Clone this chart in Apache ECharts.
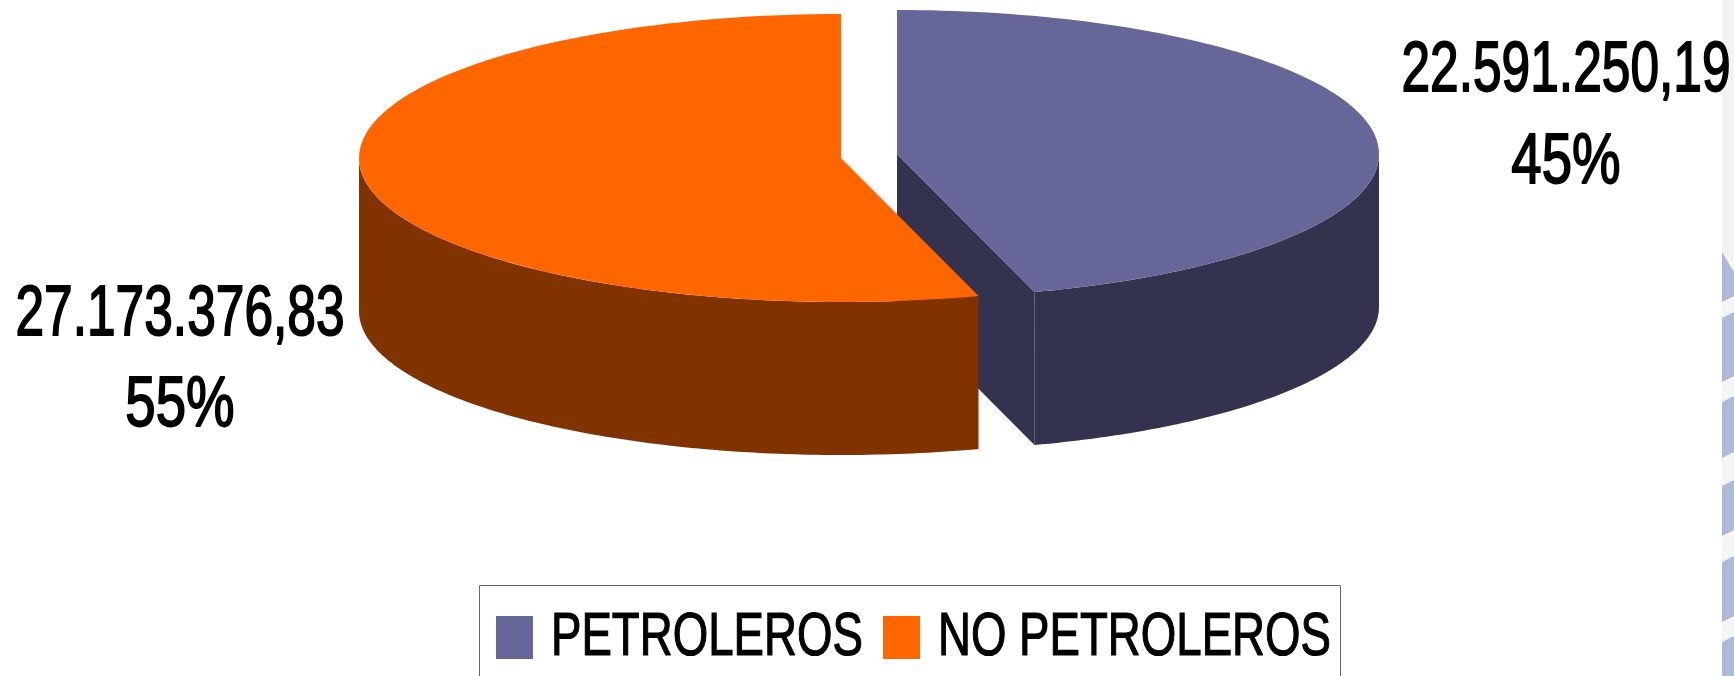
<!DOCTYPE html>
<html>
<head>
<meta charset="utf-8">
<style>
  html, body { margin: 0; padding: 0; background: #fff; }
  #chart { width: 1734px; height: 676px; }
</style>
<script src="https://cdn.jsdelivr.net/npm/echarts@6/dist/echarts.min.js"></script>
</head>
<body>
<div id="chart"></div>
<script>
const categories = ['PETROLEROS', 'NO PETROLEROS'];
const seriesValues = [22591250.19, 27173376.83];
const valueLabels = ['22.591.250,19', '27.173.376,83'];
const percentLabels = ['45%', '55%'];

const topColors = ['#666699', '#FF6600'];
const sideColors = ['#33334F', '#803300'];

// pie geometry, the source picture is an old 3D pie so it is drawn by hand
const rx = 482, ry = 144, depth = 153;
const centers = [[897, 154], [841, 158]];
const labelPos = [[1566, 72, 164], [180, 316, 407]];
const labelFont = '70px "Liberation Sans", Arial, sans-serif';
const legendFont = '61px "Liberation Sans", Arial, sans-serif';

const total = seriesValues[0] + seriesValues[1];
const cut = seriesValues[0] / total * Math.PI * 2;

function arc(c, from, to, dy) {
  const pts = [];
  const n = 120;
  for (let i = 0; i <= n; i++) {
    const a = from + (to - from) * i / n;
    pts.push([c[0] + rx * Math.sin(a), c[1] - ry * Math.cos(a) + (dy || 0)]);
  }
  return pts;
}

function poly(points, fill) {
  return { type: 'polygon', shape: { points: points }, style: { fill: fill } };
}

function labelText(text, x, y, sx) {
  return {
    type: 'text', x: x, y: y, scaleX: sx,
    style: { text: text, font: labelFont, fill: '#000', stroke: '#000', lineWidth: 1.8, align: 'center', verticalAlign: 'middle' }
  };
}

function renderSlice(params) {
  const i = params.seriesIndex;
  const c = centers[i];
  const children = [];
  if (i === 0) {
    // front wall and the cut face of the separated slice
    const wall = arc(c, Math.PI / 2, cut);
    children.push(poly(wall.concat(arc(c, cut, Math.PI / 2, depth)), sideColors[i]));
    const edge = wall[wall.length - 1];
    children.push(poly([c, edge, [edge[0], edge[1] + depth], [c[0], c[1] + depth]], sideColors[i]));
    children.push(poly([c].concat(arc(c, 0, cut)), topColors[i]));
  } else {
    const wall = arc(c, cut, Math.PI * 1.5);
    children.push(poly(wall.concat(arc(c, Math.PI * 1.5, cut, depth)), sideColors[i]));
    children.push(poly([c].concat(arc(c, cut, Math.PI * 2)), topColors[i]));
  }
  children.push(labelText(valueLabels[i], labelPos[i][0], labelPos[i][1], 0.735));
  children.push(labelText(percentLabels[i], labelPos[i][0], labelPos[i][2], 0.78));
  return { type: 'group', children: children };
}

// legend is squeezed sideways like the picture, the native one can not do that
const legendItems = [
  { swatch: 496, text: 551 },
  { swatch: 883, text: 938 }
];
const legendGraphics = [
  { type: 'rect', shape: { x: 479.5, y: 585.5, width: 861, height: 120 }, style: { fill: 'none', stroke: '#666', lineWidth: 1 } }
];
categories.forEach(function (name, i) {
  legendGraphics.push({ type: 'rect', shape: { x: legendItems[i].swatch, y: 616, width: 37, height: 43 }, style: { fill: topColors[i] } });
  legendGraphics.push({
    type: 'text', x: legendItems[i].text, y: 638, scaleX: 0.748,
    style: { text: name, font: legendFont, fill: '#000', stroke: '#000', lineWidth: 1.2, align: 'left', verticalAlign: 'middle' }
  });
});

// slide background that shows at the right edge of the picture
const gaps = [[296, 318], [376, 402], [452, 486], [530, 562], [616, 642]];
const edgeGraphics = [
  { type: 'rect', shape: { x: 1722, y: 0, width: 12, height: 262 }, style: { fill: '#f3f3f3' } },
  { type: 'polygon', shape: { points: [[1722, 252], [1734, 272], [1734, 676], [1722, 676]] }, style: { fill: '#aebbd6' } }
];
gaps.forEach(function (g) {
  edgeGraphics.push({
    type: 'polygon',
    shape: { points: [[1722, g[0] + 6], [1734, g[0]], [1734, g[1] - 6], [1722, g[1]]] },
    style: { fill: '#f4f5f4' }
  });
});

const myChart = echarts.init(document.getElementById('chart'), null, { renderer: 'canvas' });
const option = {
  animation: false,
  backgroundColor: '#fff',
  graphic: edgeGraphics.concat(legendGraphics),
  series: [
    { type: 'custom', name: categories[0], coordinateSystem: 'none', itemStyle: { color: topColors[0] }, data: [[seriesValues[0]]], renderItem: renderSlice },
    { type: 'custom', name: categories[1], coordinateSystem: 'none', itemStyle: { color: topColors[1] }, data: [[seriesValues[1]]], renderItem: renderSlice }
  ]
};
myChart.setOption(option);
</script>
</body>
</html>
